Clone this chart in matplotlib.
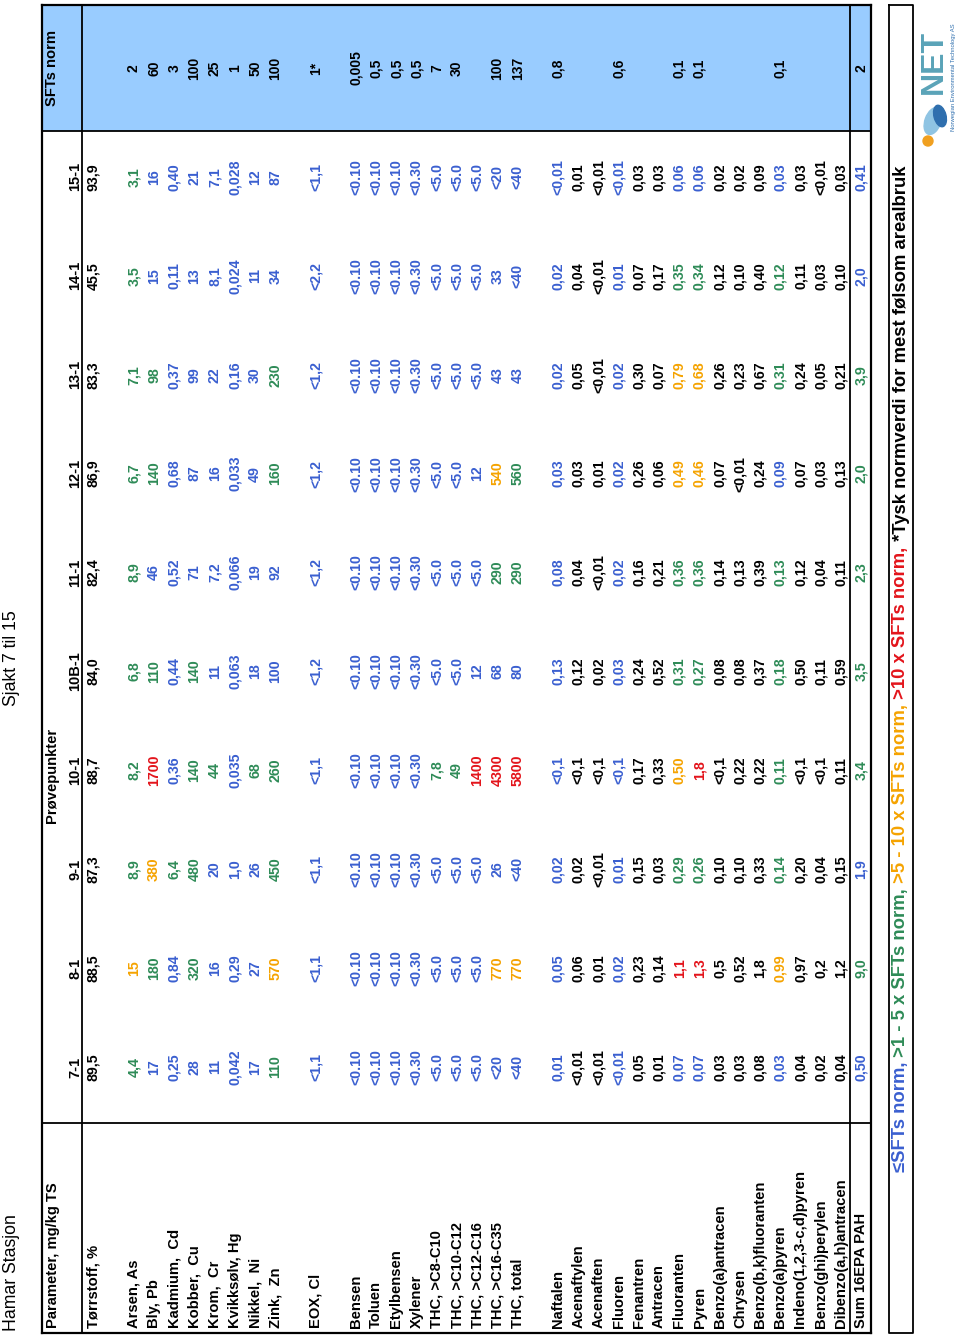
import matplotlib
matplotlib.use("Agg")
import matplotlib.pyplot as plt
from matplotlib.patches import Rectangle, Ellipse

# sample points (table columns) and the norm column
samples = ['7-1', '8-1', '9-1', '10-1', '10B-1', '11-1', '12-1', '13-1', '14-1', '15-1']

torrstoff = ['89,5', '88,5', '87,3', '88,7', '84,0', '82,4', '86,9', '83,3', '45,5', '93,9']

metal_names = ['Arsen, As', 'Bly, Pb', 'Kadmium,  Cd', 'Kobber,  Cu', 'Krom,  Cr',
               'Kvikksølv, Hg', 'Nikkel,  Ni', 'Zink,  Zn']
metal_vals = [
    ['4,4', '15', '8,9', '8,2', '6,8', '8,9', '6,7', '7,1', '3,5', '3,1'],
    ['17', '180', '380', '1700', '110', '46', '140', '98', '15', '16'],
    ['0,25', '0,84', '6,4', '0,36', '0,44', '0,52', '0,68', '0,37', '0,11', '0,40'],
    ['28', '320', '480', '140', '140', '71', '87', '99', '13', '21'],
    ['11', '16', '20', '44', '11', '7,2', '16', '22', '8,1', '7,1'],
    ['0,042', '0,29', '1,0', '0,035', '0,063', '0,066', '0,033', '0,16', '0,024', '0,028'],
    ['17', '27', '26', '68', '18', '19', '49', '30', '11', '12'],
    ['110', '570', '450', '260', '100', '92', '160', '230', '34', '87'],
]
metal_cols = ['GOGGGGGGGG', 'BGORGBGGBB', 'BBGBBBBBBB', 'BGGGGBBBBB',
              'BBBGBBBBBB', 'BBBBBBBBBB', 'BBBGBBBBBB', 'GOGGBBGGBB']
metal_norm = ['2', '60', '3', '100', '25', '1', '50', '100']

eox_vals = ['<1,1', '<1,1', '<1,1', '<1,1', '<1,2', '<1,2', '<1,2', '<1,2', '<2,2', '<1,1']
eox_cols = 'BBBBBBBBBB'
eox_norm = '1*'

thc_names = ['Bensen', 'Toluen', 'Etylbensen', 'Xylener', 'THC, >C8-C10',
             'THC, >C10-C12', 'THC, >C12-C16', 'THC, >C16-C35', 'THC, total']
thc_vals = [
    ['<0.10'] * 10,
    ['<0.10'] * 10,
    ['<0.10'] * 10,
    ['<0.30'] * 10,
    ['<5.0', '<5.0', '<5.0', '7,8', '<5.0', '<5.0', '<5.0', '<5.0', '<5.0', '<5.0'],
    ['<5.0', '<5.0', '<5.0', '49', '<5.0', '<5.0', '<5.0', '<5.0', '<5.0', '<5.0'],
    ['<5.0', '<5.0', '<5.0', '1400', '12', '<5.0', '12', '<5.0', '<5.0', '<5.0'],
    ['<20', '770', '26', '4300', '68', '290', '540', '43', '33', '<20'],
    ['<40', '770', '<40', '5800', '80', '290', '560', '43', '<40', '<40'],
]
thc_cols = ['BBBBBBBBBB', 'BBBBBBBBBB', 'BBBBBBBBBB', 'BBBBBBBBBB', 'BBBGBBBBBB',
            'BBBGBBBBBB', 'BBBRBBBBBB', 'BOBRBGOBBB', 'BOBRBGGBBB']
thc_norm = ['0,005', '0,5', '0,5', '0,5', '7', '30', '', '100', '137']

pah_names = ['Naftalen', 'Acenaftylen', 'Acenaften', 'Fluoren', 'Fenantren', 'Antracen',
             'Fluoranten', 'Pyren', 'Benzo(a)antracen', 'Chrysen', 'Benzo(b,k)fluoranten',
             'Benzo(a)pyren', 'Indeno(1,2,3-c,d)pyren', 'Benzo(ghi)perylen',
             'Dibenzo(a,h)antracen']
pah_vals = [
    ['0,01', '0,05', '0,02', '<0,1', '0,13', '0,08', '0,03', '0,02', '0,02', '<0,01'],
    ['<0,01', '0,06', '0,02', '<0,1', '0,12', '0,04', '0,03', '0,05', '0,04', '0,01'],
    ['<0,01', '0,01', '<0,01', '<0,1', '0,02', '<0,01', '0,01', '<0,01', '<0,01', '<0,01'],
    ['<0,01', '0,02', '0,01', '<0,1', '0,03', '0,02', '0,02', '0,02', '0,01', '<0,01'],
    ['0,05', '0,23', '0,15', '0,17', '0,24', '0,16', '0,26', '0,30', '0,07', '0,03'],
    ['0,01', '0,14', '0,03', '0,33', '0,52', '0,21', '0,06', '0,07', '0,17', '0,03'],
    ['0,07', '1,1', '0,29', '0,50', '0,31', '0,36', '0,49', '0,79', '0,35', '0,06'],
    ['0,07', '1,3', '0,26', '1,8', '0,27', '0,36', '0,46', '0,68', '0,34', '0,06'],
    ['0,03', '0,5', '0,10', '<0,1', '0,08', '0,14', '0,07', '0,26', '0,12', '0,02'],
    ['0,03', '0,52', '0,10', '0,22', '0,08', '0,13', '<0,01', '0,23', '0,10', '0,02'],
    ['0,08', '1,8', '0,33', '0,22', '0,37', '0,39', '0,24', '0,67', '0,40', '0,09'],
    ['0,03', '0,99', '0,14', '0,11', '0,18', '0,13', '0,09', '0,31', '0,12', '0,03'],
    ['0,04', '0,97', '0,20', '<0,1', '0,50', '0,12', '0,07', '0,24', '0,11', '0,03'],
    ['0,02', '0,2', '0,04', '<0,1', '0,11', '0,04', '0,03', '0,05', '0,03', '<0,01'],
    ['0,04', '1,2', '0,15', '0,11', '0,59', '0,11', '0,13', '0,21', '0,10', '0,03'],
]
pah_cols = ['BBBBBBBBBB', 'KKKKKKKKKK', 'KKKKKKKKKK', 'BBBBBBBBBB', 'KKKKKKKKKK',
            'KKKKKKKKKK', 'BRGOGGOOGB', 'BRGRGGOOGB', 'KKKKKKKKKK', 'KKKKKKKKKK',
            'KKKKKKKKKK', 'BOGGGGBGGB', 'KKKKKKKKKK', 'KKKKKKKKKK', 'KKKKKKKKKK']
pah_norm = ['0,8', '', '', '0,6', '', '', '0,1', '0,1', '', '', '', '0,1', '', '', '']

sum_vals = ['0,50', '9,0', '1,9', '3,4', '3,5', '2,3', '2,0', '3,9', '2,0', '0,41']
sum_cols = 'BGBGGGGGBB'
sum_norm = '2'

legend_parts = ['≤SFTs norm,', ' >1 - 5 x SFTs norm,', ' >5 - 10 x SFTs norm,',
                ' >10 x SFTs norm,', ' *Tysk normverdi for mest følsom arealbruk']
legend_cols = 'BGORK'

palette = {'B': '#3a5fd0', 'G': '#2e8b57', 'O': '#f5a300', 'R': '#e3141b', 'K': 'black'}

# assemble rows (None = empty spacer row)
rows = [('Tørrstoff, %', torrstoff, 'KKKKKKKKKK', ''), None]
rows += list(zip(metal_names, metal_vals, metal_cols, metal_norm))
rows += [None, ('EOX, Cl', eox_vals, eox_cols, eox_norm), None]
rows += list(zip(thc_names, thc_vals, thc_cols, thc_norm))
rows += [None]
rows += list(zip(pah_names, pah_vals, pah_cols, pah_norm))
rows += [('Sum 16EPA PAH', sum_vals, sum_cols, sum_norm)]

fig = plt.figure(figsize=(9.6, 13.37), dpi=100)
ax = fig.add_axes([0, 0, 1, 1])
ax.set_xlim(0, 960)
ax.set_ylim(1337, 0)
ax.axis('off')

bold = ['Liberation Sans', 'DejaVu Sans']
narrow = ['Liberation Sans Narrow', 'Liberation Sans', 'DejaVu Sans']


def vtext(x, y, s, ha='center', **kw):
    return ax.text(x, y, s, rotation=90, rotation_mode='anchor', ha=ha, va='center', **kw)


# table frame geometry (page is rotated: table rows run along x)
top, head, sum_line, bottom = 42, 82, 850, 871
right, norm_sep, par_sep, left = 5, 131, 1123, 1333
row0, row_step = 93.5, 20.2
col0, col_step = 1067, 98.9
norm_y = 68

ax.add_patch(Rectangle((top, right), bottom - top, norm_sep - right,
                       facecolor='#99ccff', edgecolor='none', zorder=0))
lw = 1.6
for xx in (top, bottom):
    ax.plot([xx, xx], [right, left], color='black', lw=lw)
for yy in (right, left):
    ax.plot([top, bottom], [yy, yy], color='black', lw=lw)
ax.plot([head, head], [right, left], color='black', lw=1.3)
ax.plot([sum_line, sum_line], [right, left], color='black', lw=1.3)
ax.plot([top, bottom], [norm_sep, norm_sep], color='black', lw=1.3)
ax.plot([top, bottom], [par_sep, par_sep], color='black', lw=1.3)

# titles
vtext(12, 1331, 'Hamar Stasjon', ha='left', fontsize=12.7, family=bold)
vtext(12, 658, 'Sjakt 7 til 15', fontsize=12.7, family=bold)

# header
vtext(52.5, 1328, 'Parameter, mg/kg TS', ha='left', fontsize=10.6, weight='bold', family=bold)
vtext(52.5, 775, 'Prøvepunkter', fontsize=10.6, weight='bold', family=bold)
vtext(52.5, norm_y, 'SFTs norm', fontsize=10.6, weight='bold', family=bold)
for j, s in enumerate(samples):
    vtext(75, col0 - j * col_step, s, fontsize=10.5, weight='bold', family=narrow)

# body
for i, r in enumerate(rows):
    if r is None:
        continue
    name, vals, cols, norm = r
    x = row0 + i * row_step
    vtext(x, 1328, name, ha='left', fontsize=10.6, weight='bold', family=bold)
    for j, (v, c) in enumerate(zip(vals, cols)):
        vtext(x, col0 - j * col_step, v, fontsize=10.2, weight='bold',
              family=narrow, color=palette[c])
    if norm:
        vtext(x, norm_y, norm, fontsize=10, weight='bold', family=bold)

# legend box
ax.plot([889, 913, 913, 889, 889], [right, right, left, left, right], color='black', lw=1.3)
renderer = fig.canvas.get_renderer()
ypos = 1172
for part, c in zip(legend_parts, legend_cols):
    t = vtext(901, ypos, part, ha='left', fontsize=13.3, weight='bold',
              family=bold, color=palette[c])
    ypos -= t.get_window_extent(renderer).height

# logo
ax.add_patch(Ellipse((933, 121), 16, 28, angle=20, color='#8fc4e3'))
ax.add_patch(Ellipse((940, 116), 12, 22, angle=-15, color='#2f6fae'))
ax.add_patch(Ellipse((928, 141), 10, 10, color='#f0a020'))
vtext(934, 94, 'NET', ha='left', fontsize=23, weight='bold', family=bold, color='#5aa3b8')
vtext(954, 131, 'Norwegian Environmental Technology AS', ha='left', fontsize=4.2,
      family=bold, color='#2f6fae')

fig.savefig('out.png', dpi=100)
